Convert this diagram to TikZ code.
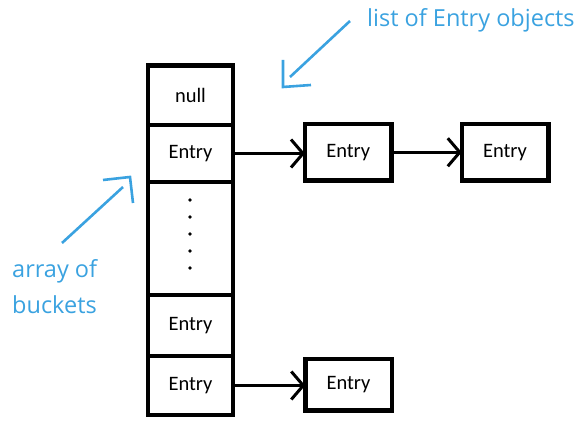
\documentclass[tikz,border=0pt]{standalone}
\usepackage{fontspec}
\setmainfont{Carlito}
\newfontfamily\annfont{Open Sans}
\usetikzlibrary{arrows.meta}
\definecolor{ann}{RGB}{58,162,224}
\begin{document}
\begin{tikzpicture}[x=1pt,y=-1pt,
  cell/.style={draw, line width=4.5pt, minimum width=85pt, inner sep=0pt, outer sep=0pt,
    font=\fontsize{20.5}{24}\selectfont},
  box/.style={cell, minimum width=86.5pt},
  link/.style={line width=3pt, -{Straight Barb[length=12pt,width=28pt]}},
  annline/.style={draw=ann, line width=2.6pt},
  anntext/.style={text=ann, font=\annfont\fontsize{23.5}{36}\selectfont, inner sep=0pt}]
\useasboundingbox (0,0) rectangle (584,427);
% array of buckets
\node[cell, minimum height=59.5pt] (nul) at (190.5,95.25) {null};
\node[cell, minimum height=57pt] (e1) at (190.5,153.5) {Entry};
\node[cell, minimum height=113pt] (dots) at (190.5,238.5) {};
\node[cell, minimum height=61pt] (e2) at (190.5,325.5) {Entry};
\node[cell, minimum height=59pt] (e3) at (190.5,385.5) {Entry};
\foreach \yy in {200,217,234,251,268} \fill (190,\yy) circle (1.9pt);
% entry lists
\node[box, minimum height=56.5pt] (b1) at (348.25,152.25) {Entry};
\node[box, minimum height=56.5pt] (b2) at (505,152.25) {Entry};
\node[box, minimum height=51.5pt] (b3) at (348.5,384.75) {Entry};
\draw[link] (e1.east) -- (e1.east -| b1.west);
\draw[link] (b1.east) -- (b2.west);
\draw[link] (e3.east) -- (e3.east -| b3.west);
% annotations
\node[anntext, anchor=base west] (lst) at (367,27) {list of Entry objects};
\node[anntext, anchor=base west, align=left] (arr) at (12,314) {array of\\buckets};
\coordinate (ta) at (350,21);
\coordinate (tb) at (290,77);
\coordinate (tu) at (283,60);
\coordinate (tc) at (283,87);
\coordinate (tr) at (311,85);
\draw[annline] (ta) -- (tb);
\draw[annline] (tu) -- (tc) -- (tr);
\coordinate (ba) at (62,243);
\coordinate (bb) at (123,187);
\coordinate (bl) at (103,180);
\coordinate (bc) at (130,177);
\coordinate (bd) at (133,203);
\draw[annline] (ba) -- (bb);
\draw[annline] (bl) -- (bc) -- (bd);
\end{tikzpicture}
\end{document}
